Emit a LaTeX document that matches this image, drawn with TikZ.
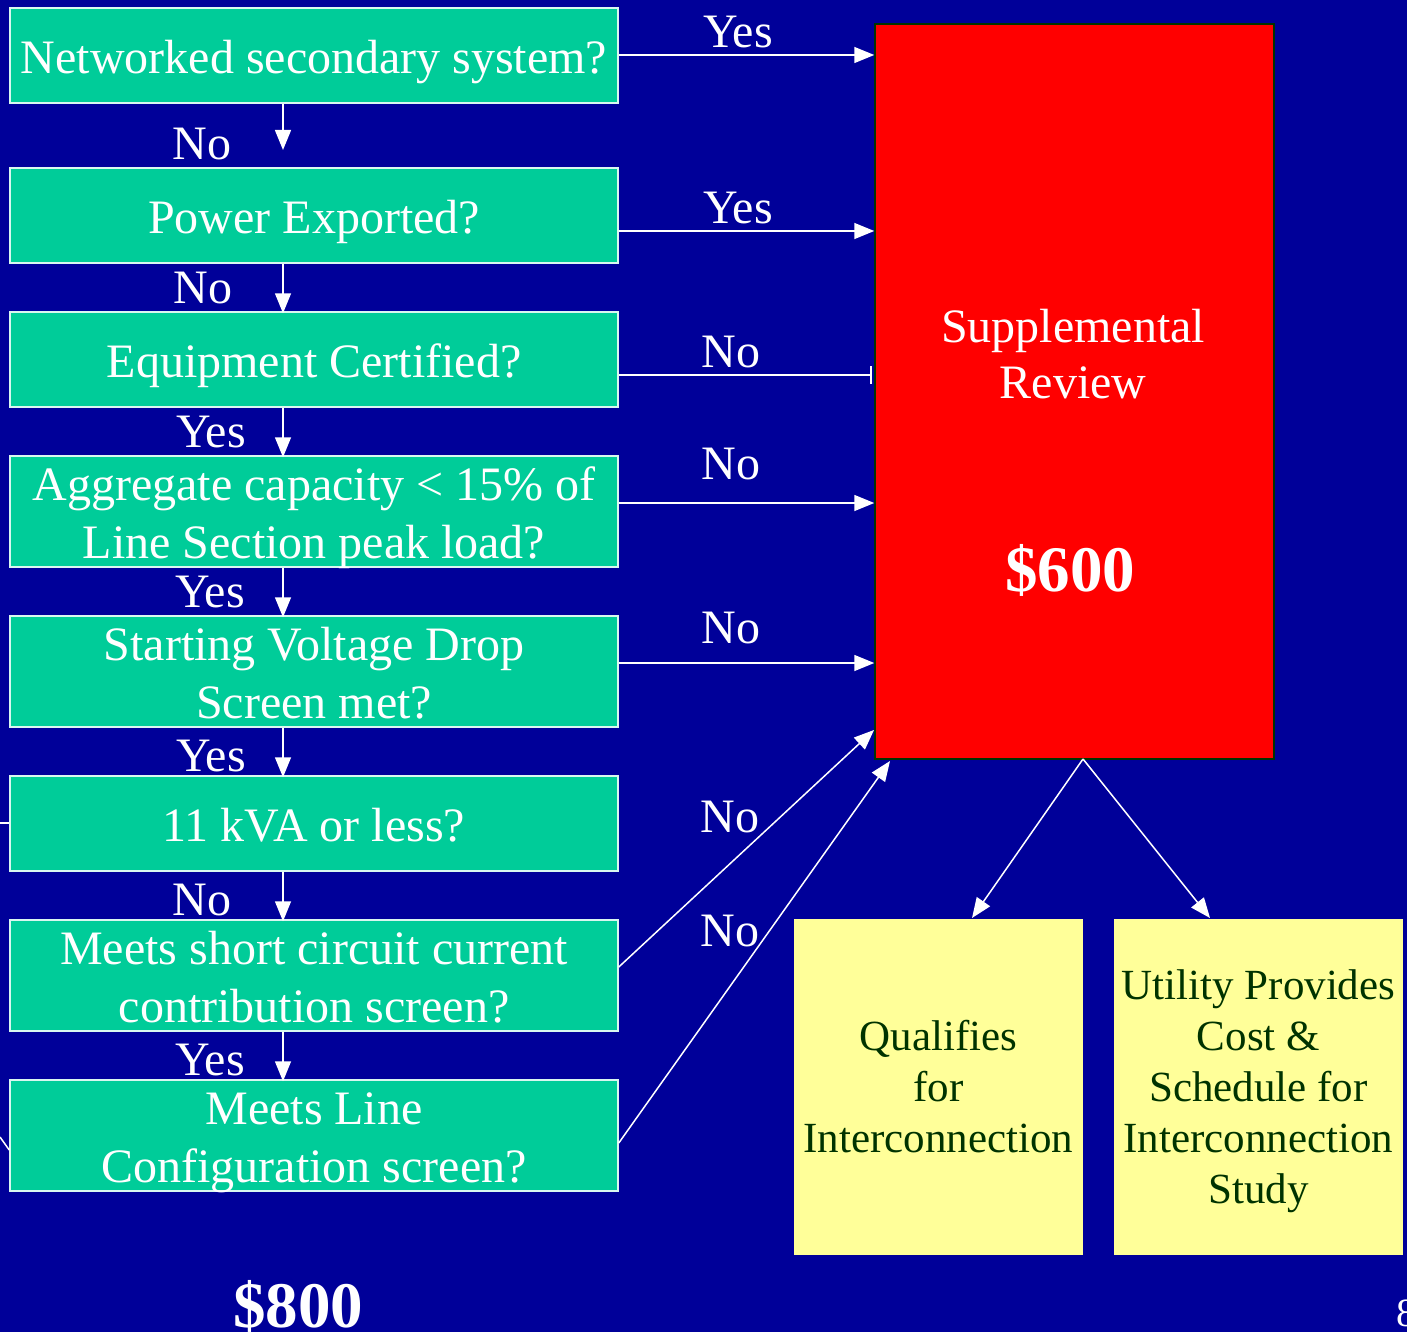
\documentclass[tikz,border=0pt]{standalone}
\usepackage{fontspec}
\setmainfont{Liberation Serif}
\usetikzlibrary{arrows.meta}
\definecolor{bgblue}{HTML}{000099}
\definecolor{boxgreen}{HTML}{00CC99}
\definecolor{boxyellow}{HTML}{FFFF99}
\definecolor{txtgreen}{HTML}{003300}
\definecolor{redborder}{HTML}{003300}
\newcommand\dntext[2][-6pt]{\raisebox{#1}[\dimexpr\height-20pt\relax][\dimexpr\depth-20pt\relax]{\begin{tabular}{@{}c@{}}#2\end{tabular}}}
\begin{document}
\begin{tikzpicture}[x=1pt,y=-1pt,
  qbox/.style={draw=white!85!boxgreen, line width=1.5pt, fill=boxgreen, text=white,
     minimum width=608pt, inner sep=0pt, align=center,
     font=\fontsize{48}{58}\selectfont},
  ybox/.style={fill=boxyellow, text=txtgreen, minimum width=289pt, minimum height=336pt,
     inner sep=0pt, align=center, font=\fontsize{43}{51}\selectfont},
  lbl/.style={text=white, font=\fontsize{48}{54}\selectfont, inner sep=0pt},
  conn/.style={draw=white, line width=1.5pt, -{Triangle[length=20pt,width=16pt]}},
  plain/.style={draw=white, line width=1.5pt}
]
\useasboundingbox[fill=bgblue] (0,0) rectangle (1407,1332);

% question boxes
\node[qbox, minimum height=95pt]  (b1) at (314,55.5)  {\dntext{Networked secondary system?}};
\node[qbox, minimum height=95pt]  (b2) at (314,215.5) {\dntext{Power Exported?}};
\node[qbox, minimum height=95pt]  (b3) at (314,359.5) {\dntext{Equipment Certified?}};
\node[qbox, minimum height=111pt] (b4) at (314,511.5) {\dntext{Aggregate capacity < 15\% of\\Line Section peak load?}};
\node[qbox, minimum height=111pt] (b5) at (314,671.5) {\dntext{Starting Voltage Drop\\Screen met?}};
\node[qbox, minimum height=95pt]  (b6) at (314,823.5) {\dntext{11 kVA or less?}};
\node[qbox, minimum height=111pt] (b7) at (314,975.5) {\dntext{Meets short circuit current\\contribution screen?}};
\node[qbox, minimum height=111pt] (b8) at (314,1135.5) {\dntext{Meets Line\\Configuration screen?}};

% supplemental review
\node[draw=redborder, line width=1.5pt, fill=red, minimum width=399pt, minimum height=735pt, inner sep=0pt]
  (sr) at (1074.5,391.5) {};
\node[text=white, align=center, font=\fontsize{48}{56}\selectfont, inner sep=0pt] (srt) at (1073,354) {Supplemental\\Review};
\node[text=white, font=\fontsize{65}{70}\selectfont\bfseries, inner sep=0pt] (p600) at (1070,570) {\$600};

% yellow boxes
\node[ybox] (q1) at (938.5,1087) {Qualifies\\for\\Interconnection};
\node[ybox] (q2) at (1258.5,1087) {\dntext[-4pt]{Utility Provides\\Cost \&\\Schedule for\\Interconnection\\Study}};

% down arrows
\coordinate (d1end) at (283,150);
\draw[conn] (b1.south -| 283,0) -- (d1end);
\draw[conn] (b2.south -| 283,0) -- ([yshift=-2pt]b3.north -| 283,0);
\draw[conn] (b3.south -| 283,0) -- ([yshift=-2pt]b4.north -| 283,0);
\draw[conn] (b4.south -| 283,0) -- ([yshift=-2pt]b5.north -| 283,0);
\draw[conn] (b5.south -| 283,0) -- ([yshift=-2pt]b6.north -| 283,0);
\draw[conn] (b6.south -| 283,0) -- ([yshift=-2pt]b7.north -| 283,0);
\draw[conn] (b7.south -| 283,0) -- ([yshift=-2pt]b8.north -| 283,0);

% down labels
\node[lbl] (l1) at (202,144) {No};
\node[lbl] (l2) at (203,288) {No};
\node[lbl] (l3) at (211,432) {Yes};
\node[lbl] (l4) at (210,592) {Yes};
\node[lbl] (l5) at (211,756) {Yes};
\node[lbl] (l6) at (202,900) {No};
\node[lbl] (l7) at (210,1060) {Yes};

% right arrows
\draw[conn] (b1.east |- 0,55) -- (sr.west |- 0,55);
\draw[conn] (b2.east |- 0,231) -- (sr.west |- 0,231);
\draw[plain, -{Bar[width=18pt,line width=2pt]}] (b3.east |- 0,375) -- ([xshift=-2pt]sr.west |- 0,375);
\draw[conn] (b4.east |- 0,503) -- (sr.west |- 0,503);
\draw[conn] (b5.east |- 0,663) -- (sr.west |- 0,663);
\coordinate (t7) at (874,730);
\coordinate (t8) at (890,761);
\draw[conn] (b7.east |- 0,967) -- (t7);
\draw[conn] (b8.east |- 0,1143) -- (t8);

% right labels
\node[lbl] (r1) at (738,32) {Yes};
\node[lbl] (r2) at (738,208) {Yes};
\node[lbl] (r3) at (731,352) {No};
\node[lbl] (r4) at (731,464) {No};
\node[lbl] (r5) at (731,628) {No};
\node[lbl] (r7) at (730,817) {No};
\node[lbl] (r8) at (730,931) {No};

% from review to outcomes
\coordinate (srb) at (1083,759);
\draw[conn] (srb) -- (972,918);
\draw[conn] (srb) -- (1210,918);

% stubs at left edge
\coordinate (s6) at (0,823);
\coordinate (s8) at (0,1137);
\draw[plain] (s6) -- (b6.west |- 0,823);
\draw[plain] (s8) -- (b8.west |- 0,1150);

% prices and page number
\node[text=white, font=\fontsize{65}{70}\selectfont\bfseries, inner sep=0pt] (p800) at (298,1306) {\$800};
\node[text=white, font=\fontsize{40}{48}\selectfont, inner sep=0pt, anchor=north west] (pg) at (1396,1300) {8};
\end{tikzpicture}
\end{document}
